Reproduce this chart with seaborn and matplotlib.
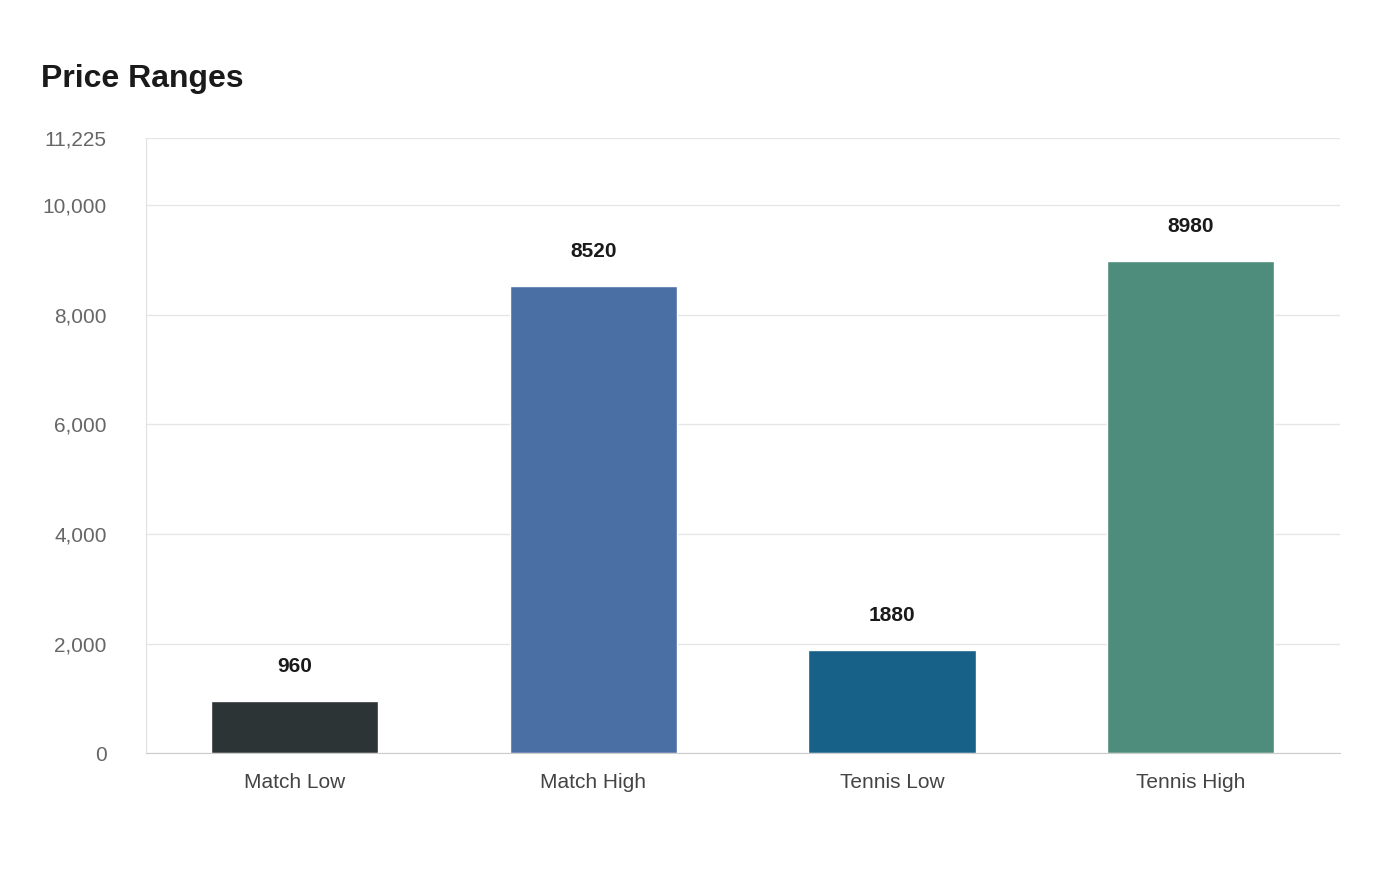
import matplotlib
matplotlib.use("Agg")
import matplotlib.pyplot as plt
import seaborn as sns
import pandas as pd

categories = ["Match Low", "Match High", "Tennis Low", "Tennis High"]
values = [960, 8520, 1880, 8980]
colors = ["#2d3436", "#4a6fa5", "#176087", "#4e8d7c"]
yticks = [0, 2000, 4000, 6000, 8000, 10000, 11225]

sns.set_style("white")
plt.rcParams['font.family'] = ['Liberation Sans', 'DejaVu Sans']

fig = plt.figure(figsize=(14, 8.8), dpi=100)
ax = fig.add_axes([0.104, 0.144, 0.853, 0.699])
df = pd.DataFrame({"cat": categories, "val": values})
sns.barplot(data=df, x="cat", y="val", hue="cat", palette=colors, width=0.56,
            legend=False, ax=ax, saturation=1)
ax.set_ylim(0, 11225)
ax.set_xlim(-0.5, 3.5)
ax.set_yticks(yticks)
ax.set_yticklabels([f"{t:,}" for t in yticks])
ax.grid(axis="y", color="#e6e6e6", linewidth=1)
ax.set_axisbelow(True)
for s in ["top", "right"]:
    ax.spines[s].set_visible(False)
ax.spines["left"].set_color("#e0e0e0")
ax.spines["bottom"].set_color("#cccccc")
ax.tick_params(axis="y", colors="#666666", labelsize=15, length=0, pad=28)
ax.tick_params(axis="x", colors="#444444", labelsize=15, length=0, pad=14)
ax.set_xlabel("")
ax.set_ylabel("")
for i, v in enumerate(values):
    ax.annotate(str(v), (i, v), xytext=(0, 18), textcoords="offset points",
                ha="center", va="bottom", fontsize=15, fontweight="bold", color="#1a1a1a")
fig.text(0.029, 0.91, "Price Ranges", fontsize=23, fontweight="bold", color="#1a1a1a", va="center")
fig.savefig("out.png", dpi=100)
